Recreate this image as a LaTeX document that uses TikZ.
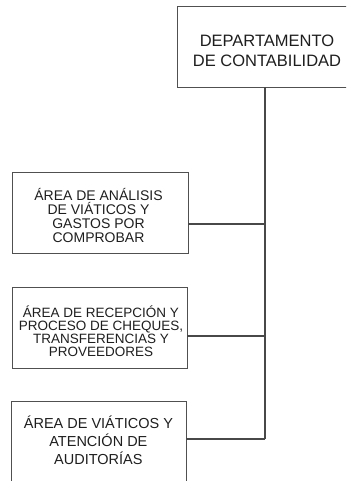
\documentclass[tikz,border=0pt]{standalone}
\usepackage{fontspec}
\setmainfont{Liberation Sans}
\definecolor{edge}{HTML}{505050}
\definecolor{ink}{HTML}{1E1E1E}
\begin{document}
\begin{tikzpicture}[x=1pt,y=-1pt,
  box/.style={draw=edge, line width=0.9pt, inner sep=0pt, rectangle},
  label/.style={align=center, text=ink, inner sep=0pt},
  conn/.style={draw=edge!90!black, line width=1.1pt}]
\useasboundingbox (0,0) rectangle (346,481);
\clip (0,0) rectangle (346,481);
% boxes
\node[box, minimum width=176pt, minimum height=81pt] (dep) at (265,46.5) {};
\node[box, minimum width=176pt, minimum height=81pt] (a1) at (100,212.5) {};
\node[box, minimum width=175pt, minimum height=81pt] (a2) at (99.5,327.5) {};
\node[box, minimum width=175pt, minimum height=120pt] (a3) at (98.5,461) {};
% texts
\node[label, font=\fontsize{16.5}{20}\selectfont] (tdep) at (267,50.8) {DEPARTAMENTO\\DE CONTABILIDAD};
\node[label, font=\fontsize{14}{13.9}\selectfont] (t1) at (98.5,215.2) {ÁREA DE ANÁLISIS\\DE VIÁTICOS  Y\\GASTOS POR\\COMPROBAR};
\node[label, font=\fontsize{13.5}{13.3}\selectfont] (t2) at (101,331.2) {ÁREA DE RECEPCIÓN Y\\PROCESO DE CHEQUES,\\TRANSFERENCIAS Y\\PROVEEDORES};
\node[label, font=\fontsize{14.5}{18.3}\selectfont] (t3) at (98.4,440.1) {ÁREA DE VIÁTICOS  Y\\ATENCIÓN DE\\AUDITORÍAS};
% connectors
\coordinate (j1) at (265,224);
\coordinate (j2) at (265,336);
\coordinate (j3) at (265,439);
\draw[conn] (dep.south) -- (j3);
\draw[conn] (j1) -- (j1 -| a1.east);
\draw[conn] (j2) -- (j2 -| a2.east);
\draw[conn] (j3) -- (j3 -| a3.east);
\end{tikzpicture}
\end{document}
